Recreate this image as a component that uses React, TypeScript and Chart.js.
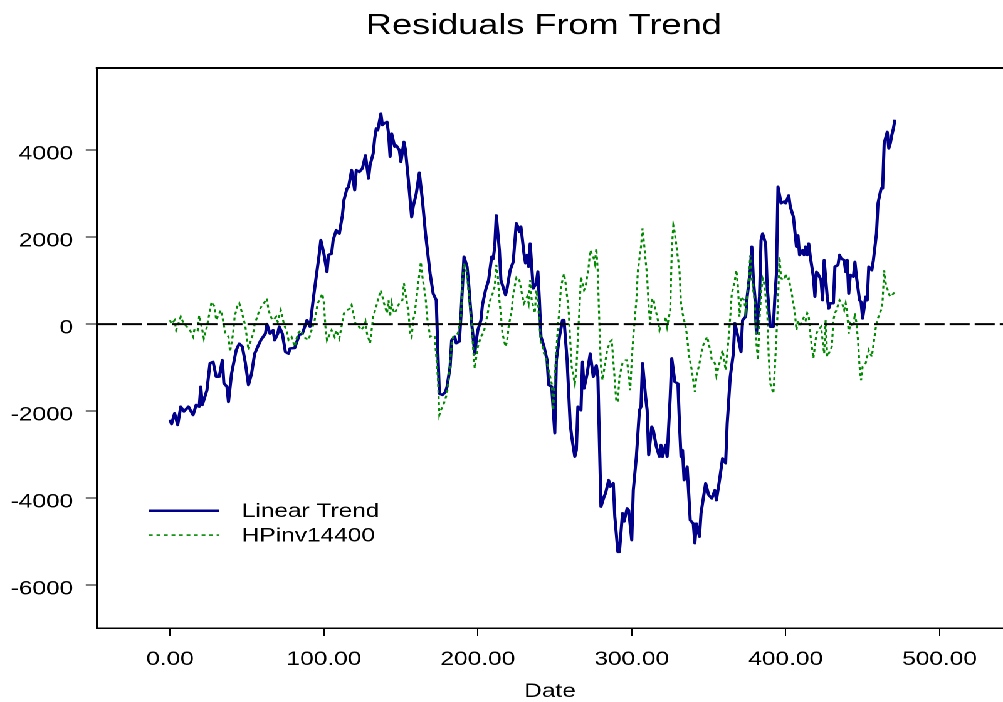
import { useEffect, useRef } from "react";
import { Chart, registerables } from "chart.js";

Chart.register(...registerables);

// Residual series, indexed by date
const linearDates = [
  0, 1, 3, 5, 7, 9, 12, 15, 17, 19, 20, 21, 24, 26, 28, 30, 32, 34, 35, 37, 38, 40, 43, 45, 47, 49, 51, 53, 55, 57,
  59, 62, 63, 65, 67, 68, 70, 71, 73, 75, 77, 78, 81, 84, 86, 89, 91, 93, 95, 97, 98, 100, 102, 103, 105, 106, 108,
  109, 110, 112, 113, 115, 116, 118, 120, 121, 123, 125, 127, 129, 130, 132, 133, 134, 135, 137, 138, 139, 141, 142,
  143, 144, 146, 147, 149, 150, 152, 153, 155, 157, 158, 160, 162, 164, 166, 169, 171, 173, 174, 175, 177, 179, 180,
  182, 183, 185, 186, 188, 189, 191, 193, 194, 196, 198, 199, 200, 202, 203, 205, 207, 209, 210, 211, 212, 214, 215,
  218, 219, 221, 223, 225, 226, 227, 228, 230, 231, 232, 233, 234, 236, 238, 239, 240, 241, 243, 245, 246, 248, 250,
  251, 253, 255, 256, 258, 260, 261, 263, 264, 265, 267, 268, 269, 271, 273, 275, 277, 278, 280, 282, 283, 285, 286,
  288, 289, 291, 292, 294, 295, 297, 298, 300, 301, 303, 305, 306, 307, 309, 310, 311, 313, 314, 316, 318, 319, 320,
  322, 323, 325, 326, 328, 330, 331, 332, 333, 334, 336, 337, 338, 340, 341, 342, 344, 345, 347, 348, 350, 352, 354,
  355, 357, 359, 361, 362, 364, 366, 367, 369, 371, 372, 374, 375, 377, 378, 379, 380, 381, 383, 384, 385, 387, 388,
  390, 392, 393, 394, 395, 397, 399, 400, 402, 403, 405, 407, 408, 409, 411, 412, 413, 414, 415, 416, 418, 419, 420,
  421, 423, 424, 425, 427, 428, 429, 431, 432, 434, 435, 436, 438, 439, 440, 441, 442, 444, 445, 446, 448, 449, 450,
  452, 453, 454, 456, 457, 459, 460, 462, 463, 464, 466, 467, 468, 469, 470, 471,
];
const linearValues = [
  -2200, -2300, -2050, -2320, -1900, -2010, -1900, -2090, -1860, -1900, -1440, -1860, -1520, -900, -870, -1210, -1210,
  -830, -1360, -1440, -1790, -1140, -600, -450, -520, -900, -1400, -1140, -680, -520, -370, -220, 0, -220, -140, -370,
  -220, -60, -220, -640, -680, -560, -550, -250, -220, 90, -60, 550, 1090, 1620, 1930, 1620, 1200, 1590, 1620, 1930,
  2160, 2120, 2080, 2500, 2850, 3120, 3150, 3540, 3080, 3540, 3500, 3580, 3880, 3350, 3660, 3920, 4270, 4500, 4460,
  4840, 4580, 4610, 4650, 4380, 3850, 4380, 4080, 4110, 4000, 3730, 4190, 4000, 3270, 2460, 2700, 3000, 3480, 2850,
  2080, 1160, 700, 550, -600, -1600, -1630, -1560, -1440, -980, -370, -290, -440, -400, 170, 1550, 1320, 940, 20, -680,
  -370, -140, 90, 440, 780, 1010, 1550, 1500, 1780, 2500, 1700, 1010, 670, 820, 1240, 1430, 2320, 2240, 2120, 2240,
  1620, 1400, 1590, 1320, 1850, 820, 940, 1210, 550, -290, -520, -830, -1400, -1440, -2510, -830, -290, 90, 90, -830,
  -2290, -2590, -3050, -2900, -1900, -1980, -870, -1480, -1140, -680, -1210, -950, -1210, -4200, -3970, -3890, -3590,
  -3740, -3660, -4430, -5240, -5240, -4350, -4540, -4240, -4280, -4970, -3820, -3050, -1980, -1900, -900, -1670, -1980,
  -3010, -2360, -2440, -2820, -3050, -2780, -3050, -2780, -3050, -1670, -790, -1330, -1370, -2290, -3050, -2900, -3590,
  -3280, -3890, -4510, -4590, -5040, -4590, -4890, -4350, -3890, -3660, -3930, -4010, -3820, -4050, -3590, -3090, -3200,
  -2290, -1210, -680, 20, -290, -640, 90, 170, 630, 1240, 1780, 1010, 630, -220, 630, 1930, 2080, 1850, 860, -60, -60,
  630, 1160, 3160, 2780, 2820, 2780, 2960, 2700, 2470, 1780, 2040, 1590, 1700, 1590, 1780, 1590, 1850, 1550, 1090, 630,
  1200, 1160, 1010, 550, 1470, 630, 360, 480, 480, 1320, 1360, 1590, 1510, 1470, 1200, 1470, 700, 1130, 1090, 1430,
  1090, 550, 510, 130, 630, 550, 1320, 1240, 1470, 2080, 2780, 3120, 3120, 4160, 4420, 4040, 4160, 4350, 4500, 4700,
];

const hpDates = [
  0, 1, 3, 4, 7, 9, 11, 13, 15, 16, 18, 19, 21, 22, 24, 26, 27, 29, 30, 31, 33, 34, 36, 38, 39, 41, 42, 44, 45, 46, 48,
  49, 51, 52, 54, 55, 57, 58, 60, 61, 63, 64, 66, 67, 69, 70, 72, 73, 74, 76, 77, 79, 81, 83, 85, 87, 90, 92, 94, 96,
  97, 99, 100, 101, 102, 104, 105, 107, 108, 110, 111, 113, 115, 117, 118, 120, 121, 123, 124, 126, 127, 128, 130, 131,
  132, 134, 135, 137, 138, 139, 141, 142, 143, 144, 145, 146, 148, 149, 151, 152, 153, 155, 156, 157, 158, 159, 160,
  161, 163, 164, 166, 167, 169, 171, 172, 174, 175, 176, 178, 180, 182, 183, 184, 187, 189, 190, 191, 193, 194, 196,
  197, 198, 199, 200, 202, 204, 205, 206, 208, 209, 211, 212, 213, 214, 215, 216, 218, 219, 220, 222, 223, 225, 226,
  227, 229, 230, 232, 233, 234, 235, 237, 238, 239, 240, 241, 242, 243, 244, 246, 248, 249, 250, 252, 253, 254, 256,
  257, 259, 260, 261, 263, 264, 265, 266, 267, 269, 270, 272, 273, 275, 276, 277, 278, 279, 280, 281, 283, 284, 286,
  287, 288, 290, 291, 292, 294, 296, 297, 298, 299, 300, 301, 303, 304, 306, 307, 308, 310, 311, 312, 313, 314, 315,
  317, 318, 319, 321, 322, 323, 325, 326, 327, 328, 329, 331, 332, 333, 335, 336, 337, 339, 341, 342, 344, 346, 347,
  349, 351, 352, 354, 355, 357, 359, 360, 361, 363, 364, 365, 367, 368, 369, 370, 371, 373, 374, 375, 376, 377, 378,
  380, 381, 382, 383, 384, 385, 386, 388, 389, 390, 392, 393, 394, 395, 396, 397, 399, 400, 401, 402, 404, 406, 407,
  408, 409, 412, 413, 414, 415, 416, 417, 418, 420, 421, 423, 424, 425, 426, 427, 429, 430, 431, 432, 433, 435, 437,
  438, 439, 440, 441, 442, 444, 445, 446, 447, 448, 449, 450, 452, 454, 455, 456, 458, 459, 461, 462, 463, 464, 465,
  467, 468, 470, 471,
];
const hpValues = [
  90, 0, 90, -140, 170, 0, -60, -140, -290, -100, -140, 200, -140, -330, -60, 320, 510, 400, 90, 170, 320, 170, -220,
  -290, -640, -220, 170, 440, 480, 360, 90, -60, -600, -440, -220, 0, 200, 320, 440, 480, 590, 320, 130, 90, 170, 50,
  320, 170, 0, -180, -370, -300, -520, -220, -140, -300, -370, -140, 90, 480, 550, 700, 480, -60, -370, -220, -140,
  -300, -140, -330, -140, 250, 320, 360, 440, 90, -60, -60, -140, -60, 50, -220, -440, -140, 170, 400, 550, 780, 630,
  480, 250, 550, 170, 480, 320, 250, 400, 480, 550, 940, 700, 250, -220, -300, 90, 250, 550, 860, 1430, 1090, 630, 170,
  -290, -250, -290, -1210, -2090, -1980, -1820, -1600, -900, -440, -290, -220, 170, 1010, 1400, 1160, 700, 20, -600,
  -1020, -750, -520, -290, -180, 20, 170, 550, 630, 860, 1360, 1090, 550, 210, -220, -520, -400, -60, 320, 700, 1050,
  980, 1010, 630, 480, 630, 480, 1010, 550, 250, 780, 550, 20, -480, -520, -680, -750, -1060, -1370, -1980, -1210, -60,
  320, 860, 1160, 940, 320, -370, -980, -1370, -1060, -290, 320, 1090, 780, 860, 1320, 1700, 1550, 1400, 1740, 1160,
  -60, -980, -1290, -830, -600, -400, -370, -830, -1790, -1790, -1210, -900, -830, -830, -1210, -1520, -830, -290, 550,
  1240, 1780, 2200, 1850, 1090, 400, 0, 550, 590, 400, 90, -140, 0, 0, 170, -60, 320, 1700, 2270, 2100, 1800, 1240, 480,
  250, -60, -290, -680, -1060, -1560, -1210, -900, -520, -440, -290, -600, -830, -900, -1180, -900, -600, -830, -1060,
  -290, 170, 700, 1010, 1240, 860, 170, 630, 550, 320, 630, 1010, 1580, 1050, 480, -440, -830, 90, 700, 1050, 940, 320,
  -760, -1370, -1600, -980, -290, 480, 1550, 1050, 1010, 1160, 1010, 1050, 700, 250, -140, 90, -60, 170, 90, 250, 170,
  -220, -520, -790, -220, -140, -60, -370, -680, 90, -750, -600, -520, 90, 250, 320, 550, 440, 320, 480, 250, -220, 20,
  -60, 250, 20, -370, -980, -1290, -980, -900, -600, -680, -750, -220, 20, 250, 320, 550, 1240, 940, 700, 630, 700, 740,
];

const seriesNames = ["Linear Trend", "HPinv14400"];
const xTickValues = [0, 100, 200, 300, 400, 500];
const yTickValues = [-6000, -4000, -2000, 0, 2000, 4000];
const chartTitle = "Residuals From Trend";
const xAxisTitle = "Date";

// The drawing is laid out on an 800px-wide canvas and widened to the page width.
const CANVAS_W = 800;
const CANVAS_H = 702;
const PAGE_W = 1003;
const STRETCH = PAGE_W / CANVAS_W;
const FAMILY = "'Liberation Sans', Arial, Helvetica, sans-serif";
const TEXT_SIZE = 19.5;

const framePlugin = {
  id: "frame",
  afterDatasetsDraw(chart: any) {
    const { ctx, chartArea, scales } = chart;
    // dashed zero reference line
    const y0 = scales.y.getPixelForValue(0);
    ctx.save();
    ctx.strokeStyle = "#000";
    ctx.lineWidth = 2;
    ctx.setLineDash([16, 4]);
    ctx.beginPath();
    ctx.moveTo(chartArea.left, y0);
    ctx.lineTo(chartArea.right, y0);
    ctx.stroke();
    ctx.restore();
  },
  afterDraw(chart: any) {
    const { ctx, chartArea } = chart;
    ctx.save();
    // top frame line
    ctx.strokeStyle = "#000";
    ctx.lineWidth = 2;
    ctx.beginPath();
    ctx.moveTo(chartArea.left - 1, chartArea.top);
    ctx.lineTo(chartArea.right, chartArea.top);
    ctx.stroke();

    // title
    ctx.fillStyle = "#000";
    ctx.font = `28.8px ${FAMILY}`;
    ctx.textAlign = "center";
    ctx.textBaseline = "alphabetic";
    ctx.fillText(chartTitle, 433.7, 34);

    // legend
    ctx.font = `${TEXT_SIZE}px ${FAMILY}`;
    ctx.textAlign = "left";
    chart.data.datasets.forEach((ds: any, i: number) => {
      const rowY = 510.7 + i * 24.4;
      ctx.save();
      ctx.strokeStyle = ds.borderColor;
      ctx.lineWidth = ds.borderWidth;
      ctx.setLineDash(ds.borderDash || []);
      ctx.beginPath();
      ctx.moveTo(118.8, rowY);
      ctx.lineTo(174.7, rowY);
      ctx.stroke();
      ctx.restore();
      ctx.fillStyle = "#000";
      ctx.fillText(ds.label, 192.8, rowY + 6.5);
    });
    ctx.restore();
  },
};

export default function App() {
  const canvasRef = useRef<HTMLCanvasElement | null>(null);

  useEffect(() => {
    const canvas = canvasRef.current;
    if (!canvas) return;
    const font = { family: FAMILY, size: TEXT_SIZE };

    const chart = new Chart(canvas, {
      type: "line",
      data: {
        datasets: [
          {
            label: seriesNames[0],
            data: linearDates.map((d, i) => ({ x: d, y: linearValues[i] })),
            borderColor: "#00008a",
            borderWidth: 2.5,
            pointRadius: 0,
            tension: 0,
            borderJoinStyle: "round",
            order: 1,
          },
          {
            label: seriesNames[1],
            data: hpDates.map((d, i) => ({ x: d, y: hpValues[i] })),
            borderColor: "#008a00",
            borderWidth: 1.6,
            borderDash: [3, 3],
            pointRadius: 0,
            tension: 0,
            order: 0,
          },
        ],
      },
      options: {
        animation: false,
        responsive: false,
        devicePixelRatio: 2,
        layout: { padding: { top: 68, left: 0, right: 0, bottom: 0 } },
        plugins: {
          legend: { display: false },
          tooltip: { enabled: false },
          title: { display: false },
        },
        scales: {
          x: {
            type: "linear",
            min: -47.4,
            max: 541.2,
            afterBuildTicks: (scale: any) => {
              scale.ticks = xTickValues.map((v) => ({ value: v }));
            },
            afterFit: (scale: any) => {
              scale.height = 74;
            },
            ticks: {
              font,
              color: "#000",
              padding: 12,
              maxRotation: 0,
              autoSkip: false,
              callback: (v: any) => Number(v).toFixed(2),
            },
            grid: {
              display: true,
              drawOnChartArea: false,
              drawTicks: true,
              tickLength: 8,
              color: "#000",
              lineWidth: 1,
            },
            border: { display: true, color: "#000", width: 1.5 },
            title: {
              display: true,
              text: xAxisTitle,
              font,
              color: "#000",
              padding: { top: 0, bottom: -1.5 },
            },
          },
          y: {
            type: "linear",
            min: -6990,
            max: 5890,
            afterBuildTicks: (scale: any) => {
              scale.ticks = yTickValues.map((v) => ({ value: v }));
            },
            afterFit: (scale: any) => {
              scale.width = 77.4;
            },
            ticks: {
              font,
              color: "#000",
              padding: 10,
              labelOffset: 4,
              callback: (v: any) => String(v),
            },
            grid: {
              display: true,
              drawOnChartArea: false,
              drawTicks: true,
              tickLength: 9,
              color: "#000",
              lineWidth: 1,
            },
            border: { display: true, color: "#000", width: 2 },
          },
        },
      } as any,
      plugins: [framePlugin],
    });

    return () => chart.destroy();
  }, []);

  return (
    <div
      style={{
        position: "fixed",
        left: 0,
        top: 0,
        width: CANVAS_W,
        height: CANVAS_H,
        transform: `scaleX(${STRETCH})`,
        transformOrigin: "0 0",
        background: "#fff",
      }}
    >
      <canvas ref={canvasRef} width={CANVAS_W} height={CANVAS_H} style={{ display: "block" }} />
    </div>
  );
}
